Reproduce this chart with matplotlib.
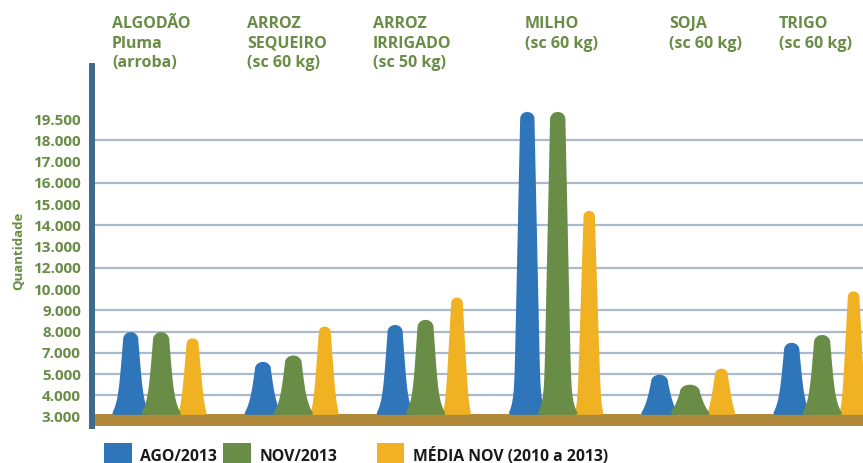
import numpy as np
import matplotlib.pyplot as plt
from matplotlib.patches import Rectangle

plt.rcParams['font.family'] = ['Open Sans', 'DejaVu Sans']

# dados
categorias = ['ALGODÃO\nPluma\n(arroba)', 'ARROZ\nSEQUEIRO\n(sc 60 kg)', 'ARROZ\nIRRIGADO\n(sc 50 kg)',
              'MILHO\n(sc 60 kg)', 'SOJA\n(sc 60 kg)', 'TRIGO\n(sc 60 kg)']
ago_2013 = [8000, 6200, 8340, 20050, 5000, 7500]
nov_2013 = [8000, 6810, 8580, 20050, 4530, 7870]
media_nov = [7710, 8260, 9630, 14710, 5570, 9920]
series = ['AGO/2013', 'NOV/2013', 'MÉDIA NOV (2010 a 2013)']

tick_vals = [3000, 4000, 5000, 7000, 8000, 9000, 10000, 12000, 13000,
             14000, 15000, 16000, 17000, 18000, 19500]
tick_labels = ['3.000', '4.000', '5.000', '7.000', '8.000', '9.000', '10.000', '12.000', '13.000',
               '14.000', '15.000', '16.000', '17.000', '18.000', '19.500']
grid_vals = [4000, 5000, 7000, 8000, 9000, 12000, 14000, 16000, 18000]

azul = '#2E75B9'
verde = '#698C46'
amarelo = '#F0B223'
marrom = '#B08A3A'

# eixo y: rotulos igualmente espacados (escala irregular)
tv = np.array(tick_vals, float)
ti = np.arange(len(tv), dtype=float)


def forward(v):
    v = np.asarray(v, float)
    p = np.interp(v, tv, ti)
    p = np.where(v < tv[0], (v - tv[0]) / 1000.0, p)
    p = np.where(v > tv[-1], ti[-1] + (v - tv[-1]) / 1500.0, p)
    return p


def inverse(p):
    p = np.asarray(p, float)
    v = np.interp(p, ti, tv)
    v = np.where(p < 0, tv[0] + p * 1000.0, v)
    v = np.where(p > ti[-1], tv[-1] + (p - ti[-1]) * 1500.0, v)
    return v


W, H = 863, 463
fig = plt.figure(figsize=(W / 100, H / 100), dpi=100)
ax = fig.add_axes([92 / W, 1 - 425.7 / H, 771 / W, (425.7 - 66) / H])
ax.set_yscale('function', functions=(forward, inverse))
ax.set_ylim(float(inverse(-0.423)), float(inverse(16.5)))
ax.set_xlim(-0.519, 5.313)

PX_X = 1 / 132.2   # unidades x por pixel
PX_Y = 1 / 21.26   # unidades de indice por pixel
P0 = 0.113


def pico(xc, valor, a, b, cor, z):
    p1 = float(forward(valor))
    h = (p1 - P0) / PX_Y
    d = np.linspace(0, h, 400)
    c = 6.5
    tau = 11.0

    def perfil(dd):
        return a + c * (1 - dd / h) + (b - a - c) * np.exp(-dd / tau)

    hw = perfil(d)
    rf = 3.0
    pe = d < rf
    hw[pe] = hw[pe] - rf + np.sqrt(rf ** 2 - (rf - d[pe]) ** 2)
    r = a
    topo = d > h - r
    r_eff = perfil(h - r)
    hw[topo] = r_eff * np.sqrt(np.clip(1 - ((d[topo] - (h - r)) / r) ** 2, 0, 1))
    y = inverse(P0 + d * PX_Y)
    ax.fill_betweenx(y, xc - hw * PX_X, xc + hw * PX_X, color=cor, lw=0, zorder=z)


x = np.arange(len(categorias))
for i in x:
    pico(i - 0.23, ago_2013[i], 7.0, 19.5, azul, 2)
    pico(i + 0.238, media_nov[i], 5.5, 14.5, amarelo, 2)
    pico(i, nov_2013[i], 7.5, 21.0, verde, 3)

for g in grid_vals:
    ax.axhline(g, color='#A8BACB', lw=1.6, zorder=1)
ax.axhspan(float(inverse(-0.5)), float(inverse(P0)), color=marrom, lw=0, zorder=1.5)

for s in ['top', 'right', 'bottom']:
    ax.spines[s].set_visible(False)
ax.spines['left'].set_color('#3E6A8C')
ax.spines['left'].set_linewidth(4.3)
ax.spines['left'].set_zorder(5)
ax.set_xticks([])
ax.set_yticks(tick_vals)
ax.set_yticklabels(tick_labels)
ax.yaxis.set_minor_locator(plt.NullLocator())
ax.tick_params(axis='y', length=0, pad=8, labelsize=11, labelcolor=verde)
for t in ax.get_yticklabels():
    t.set_fontweight('bold')

fig.text(19 / W, 1 - 251 / H, 'Quantidade', rotation=90, ha='center', va='center',
         color=verde, fontsize=9.5, fontweight='bold')

# titulos das categorias
titulo_x = [112, 247, 373, 525, 669, 779]
for tx, cat in zip(titulo_x, categorias):
    fig.text(tx / W, 1 - 16 / H, cat, ha='left', va='top', color=verde,
             fontsize=11.5, fontweight='bold', linespacing=1.3)

# legenda
leg_x = [104, 223.3, 376.7]
cores = [azul, verde, amarelo]
for lx, cor, nome in zip(leg_x, cores, series):
    fig.patches.append(Rectangle((lx / W, 0), 27.5 / W, (463 - 442.7) / H,
                                 transform=fig.transFigure, color=cor, lw=0))
    fig.text((lx + 36) / W, 1 - 460.7 / H, nome, ha='left', va='baseline',
             color='#1A1A1A', fontsize=11.3, fontweight='bold')

fig.savefig('out.png', dpi=100)
